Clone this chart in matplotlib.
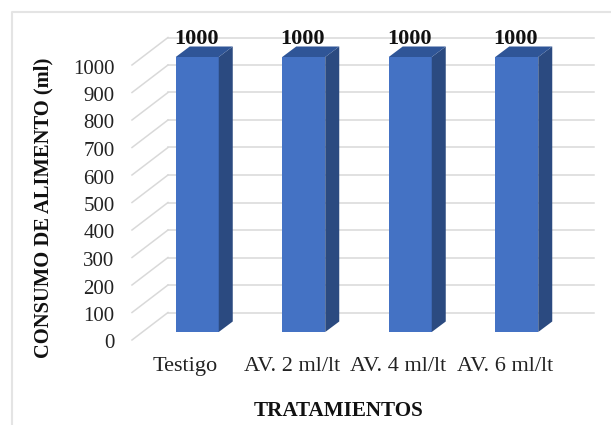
#!/usr/bin/env python3
import matplotlib
matplotlib.use('Agg')
import matplotlib.pyplot as plt
from matplotlib.lines import Line2D
from matplotlib.transforms import ScaledTranslation
import numpy as np

# data
categories = ['Testigo', 'AV. 2 ml/lt', 'AV. 4 ml/lt', 'AV. 6 ml/lt']
consumo = [1000, 1000, 1000, 1000]
yticks = [0, 100, 200, 300, 400, 500, 600, 700, 800, 900, 1000]

plt.rcParams['font.family'] = ['Liberation Serif', 'DejaVu Serif']

W, H = 611, 425
LEFT, RIGHT, TOP, BOTTOM = 132, 558, 65, 340

fig = plt.figure(figsize=(W / 100, H / 100), dpi=100)
ax = fig.add_axes([LEFT / W, 1 - BOTTOM / H, (RIGHT - LEFT) / W, (BOTTOM - TOP) / H])
ax.set_xlim(-0.5, 3.5)
ax.set_ylim(0, 1000)
ax.patch.set_alpha(0)
for spine in ax.spines.values():
    spine.set_visible(False)

# pixel sizes of the fake 3d, as data units
px_x = 4 / (RIGHT - LEFT)
px_y = 1000 / (BOTTOM - TOP)

# back wall grid and the slanted floor/side lines
wall_dx = 36 * px_x
wall_dy = 27.5 * px_y
for t in yticks:
    ax.plot([-0.5, -0.5 + wall_dx], [t, t + wall_dy], color='#D9D9D9', lw=1.1,
            clip_on=False, zorder=1)
    ax.plot([-0.5 + wall_dx, 3.5 + wall_dx], [t + wall_dy, t + wall_dy],
            color='#D9D9D9', lw=1.1, clip_on=False, zorder=1)

# bars: front face, then side and top
x = np.arange(len(categories))
front_dx = 12 * px_x
front_dy = 8 * px_y
depth_dx = 14 * px_x
depth_dy = 10.5 * px_y
bar_w = 43 * px_x
ax.bar(x + front_dx, consumo, width=bar_w, bottom=front_dy, color='#4472C4',
       clip_on=False, zorder=3)
for xi, v in zip(x, consumo):
    x0 = xi + front_dx - bar_w / 2
    x1 = xi + front_dx + bar_w / 2
    y0 = front_dy
    y1 = front_dy + v
    ax.fill([x1, x1 + depth_dx, x1 + depth_dx, x1],
            [y0, y0 + depth_dy, y1 + depth_dy, y1],
            color='#2B4A80', lw=0, clip_on=False, zorder=3)
    ax.fill([x0, x1, x1 + depth_dx, x0 + depth_dx],
            [y1, y1, y1 + depth_dy, y1 + depth_dy],
            color='#2F5597', lw=0, clip_on=False, zorder=3)
    ax.text(xi + front_dx - 1 * px_x, v + wall_dy - 1 * px_y, str(v), ha='center', va='center',
            fontsize=16, fontweight='bold', color='#111111', clip_on=False,
            zorder=4)

ax.set_xticks(x, categories)
ax.set_yticks(yticks)
ax.tick_params(axis='x', length=0, labelsize=16, labelcolor='#222222', pad=12)
ax.tick_params(axis='y', length=0, labelsize=15, labelcolor='#222222', pad=12.5)

# y labels sit a bit lower than the grid ends
shift = ScaledTranslation(0, -1.5 / 100, fig.dpi_scale_trans)
for lab in ax.get_yticklabels():
    lab.set_transform(lab.get_transform() + shift)

ax.set_xlabel('TRATAMIENTOS', fontsize=15.2, fontweight='bold', color='#111111')
ax.xaxis.set_label_coords(0.486, -0.22)
ax.set_ylabel('CONSUMO DE ALIMENTO (ml)', fontsize=14.8, fontweight='bold', color='#111111')
ax.yaxis.set_label_coords(-0.185, 0.48)

# light frame around the picture
fig.add_artist(Line2D([12 / W, 12 / W, 1], [0, 1 - 12 / H, 1 - 12 / H],
                      color='#E4E4E4', lw=1.5))

fig.savefig('out.png', dpi=100)
